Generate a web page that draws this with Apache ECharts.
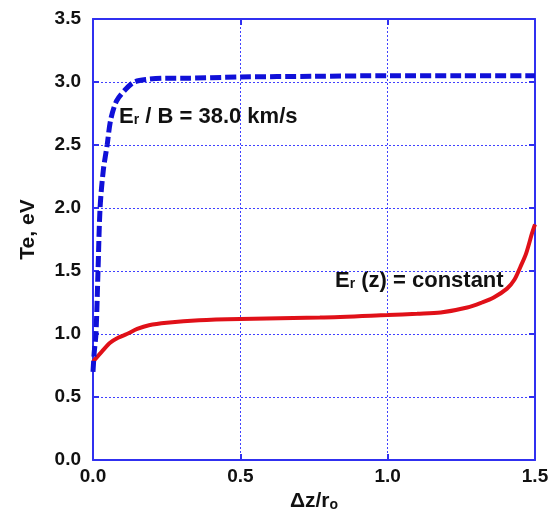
<!DOCTYPE html>
<html>
<head>
<meta charset="utf-8">
<script src="https://cdn.jsdelivr.net/npm/echarts@6/dist/echarts.min.js"></script>
<style>
  html, body { margin: 0; padding: 0; background: #fff; }
  #main { width: 559px; height: 509px; }
</style>
</head>
<body>
<div id="main"></div>
<script type="text/javascript">
    // Er/B = 38.0 km/s curve (blue dashed)
    var blueX = [0, 0.004, 0.01, 0.017, 0.024, 0.035, 0.048, 0.06, 0.08, 0.11, 0.14, 0.18, 0.25, 0.3, 0.5, 0.75, 1.0, 1.25, 1.5];
    var blueY = [0.7, 0.85, 1.0, 1.5, 2.0, 2.3, 2.5, 2.7, 2.85, 2.94, 3.0, 3.02, 3.03, 3.03, 3.04, 3.045, 3.05, 3.05, 3.05];

    // Er(z) = constant curve (red)
    var redX = [0, 0.03, 0.058, 0.085, 0.115, 0.15, 0.19, 0.25, 0.36, 0.5, 0.77, 1.0, 1.1, 1.18, 1.27, 1.32, 1.36, 1.405, 1.43, 1.45, 1.47, 1.49, 1.5];
    var redY = [0.78, 0.86, 0.93, 0.97, 1.0, 1.04, 1.07, 1.09, 1.11, 1.12, 1.13, 1.15, 1.16, 1.17, 1.21, 1.25, 1.29, 1.36, 1.43, 1.53, 1.64, 1.8, 1.87];

    var yTicks = [0, 0.5, 1.0, 1.5, 2.0, 2.5, 3.0, 3.5];
    var xTicks = [0, 0.5, 1.0, 1.5];

    function pairs(xs, ys) {
        return xs.map(function (x, i) { return [x, ys[i]]; });
    }

    var chart = echarts.init(document.getElementById('main'));

    var axisBlue = '#3030f0';
    var gridBlue = '#4040ff';
    var font = 'Liberation Sans, Arial, sans-serif';
    var labelFont = {
        color: '#111',
        fontFamily: font,
        fontWeight: 'bold',
        fontSize: 19
    };
    var subStyle = { fontSize: 14, fontWeight: 'bold', fill: '#111', color: '#111', fontFamily: font, padding: [7, 0, 0, 0] };

    var option = {
        animation: false,
        grid: { left: 93, right: 24, top: 19, bottom: 49, show: false, outerBoundsMode: 'none', containLabel: false },
        xAxis: [
            {
                type: 'value',
                min: xTicks[0],
                max: xTicks[xTicks.length - 1],
                interval: 0.5,
                position: 'bottom',
                name: 'Δz/r{sub|o}',
                nameLocation: 'middle',
                nameGap: 23,
                nameTextStyle: {
                    color: '#111', fontFamily: font, fontWeight: 'bold', fontSize: 21,
                    rich: { sub: subStyle }
                },
                axisLine: { onZero: false, lineStyle: { color: axisBlue, width: 2 } },
                axisTick: { inside: true, length: 6, lineStyle: { color: axisBlue, width: 2 } },
                axisLabel: Object.assign({ margin: 7, formatter: function (v) { return v.toFixed(1); } }, labelFont),
                splitLine: { show: true, lineStyle: { color: gridBlue, type: [2, 2], width: 1 } }
            },
            {
                type: 'value',
                min: xTicks[0],
                max: xTicks[xTicks.length - 1],
                interval: 0.5,
                position: 'top',
                axisLine: { show: true, onZero: false, lineStyle: { color: axisBlue, width: 2 } },
                axisTick: { show: true, inside: true, length: 6, lineStyle: { color: axisBlue, width: 2 } },
                axisLabel: { show: false },
                splitLine: { show: false }
            }
        ],
        yAxis: [
            {
                type: 'value',
                min: yTicks[0],
                max: yTicks[yTicks.length - 1],
                interval: 0.5,
                position: 'left',
                name: 'Te, eV',
                nameLocation: 'middle',
                nameGap: 54,
                nameTextStyle: {
                    color: '#111', fontFamily: font, fontWeight: 'bold', fontSize: 21,
                    padding: [0, 0, 0, 20]
                },
                axisLine: { onZero: false, lineStyle: { color: axisBlue, width: 2 } },
                axisTick: { inside: true, length: 6, lineStyle: { color: axisBlue, width: 2 } },
                axisLabel: Object.assign({ margin: 12, formatter: function (v) { return v.toFixed(1); } }, labelFont),
                splitLine: { show: true, lineStyle: { color: gridBlue, type: [2, 2], width: 1 } }
            },
            {
                type: 'value',
                min: yTicks[0],
                max: yTicks[yTicks.length - 1],
                interval: 0.5,
                position: 'right',
                axisLine: { show: true, onZero: false, lineStyle: { color: axisBlue, width: 2 } },
                axisTick: { show: true, inside: true, length: 6, lineStyle: { color: axisBlue, width: 2 } },
                axisLabel: { show: false },
                splitLine: { show: false }
            }
        ],
        series: [
            {
                name: 'Er/B',
                type: 'line',
                smooth: 0.3,
                showSymbol: false,
                data: pairs(blueX, blueY),
                lineStyle: { color: '#1010d8', width: 5, type: [11, 4] },
                z: 3
            },
            {
                name: 'Er(z)',
                type: 'line',
                smooth: 0.3,
                showSymbol: false,
                data: pairs(redX, redY),
                lineStyle: { color: '#e01018', width: 4 },
                z: 2
            }
        ],
        graphic: [
            {
                type: 'text',
                left: 119,
                top: 106,
                style: {
                    text: 'E{sub|r} / B = 38.0 km/s',
                    fill: '#111',
                    fontFamily: font,
                    fontWeight: 'bold',
                    fontSize: 22,
                    rich: { sub: subStyle }
                }
            },
            {
                type: 'text',
                left: 335,
                top: 270,
                style: {
                    text: 'E{sub|r} (z) = constant',
                    fill: '#111',
                    fontFamily: font,
                    fontWeight: 'bold',
                    fontSize: 22,
                    rich: { sub: subStyle }
                }
            }
        ]
    };

    chart.setOption(option);
</script>
</body>
</html>
